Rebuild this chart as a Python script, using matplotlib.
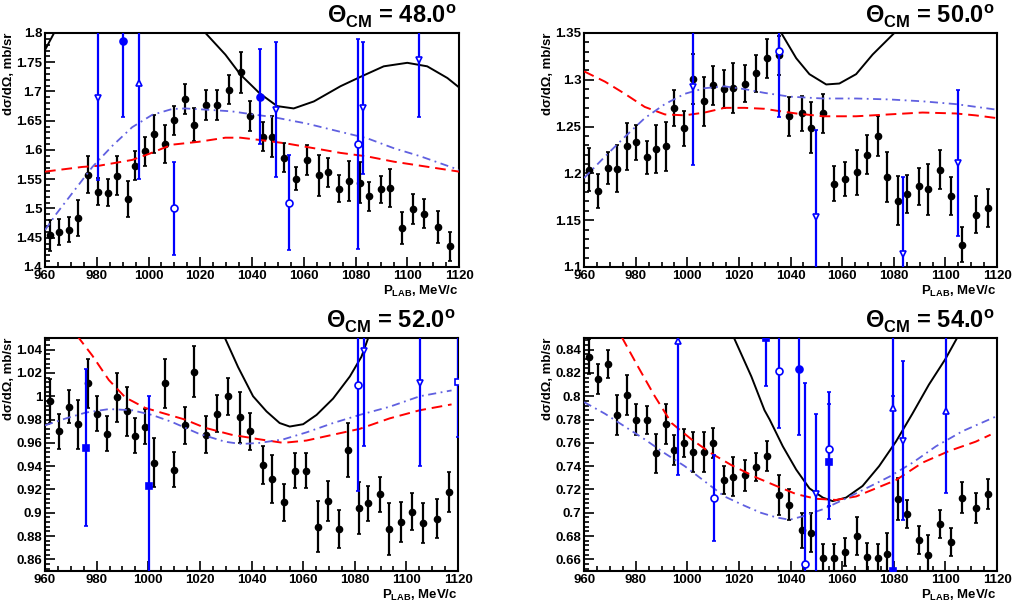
import numpy as np
import matplotlib
matplotlib.use("Agg")
import matplotlib.pyplot as plt
from matplotlib.ticker import MultipleLocator, FuncFormatter

plt.rcParams["font.family"] = ["Liberation Sans", "DejaVu Sans"]
plt.rcParams["font.weight"] = "bold"
plt.rcParams["mathtext.fontset"] = "custom"
plt.rcParams["mathtext.rm"] = "Liberation Sans"
plt.rcParams["mathtext.bf"] = "Liberation Sans:bold"

# ---------------------------------------------------------------------------
# Data
# ---------------------------------------------------------------------------

angles = [48.0, 50.0, 52.0, 54.0]

# beam momenta of the main (black) data set, MeV/c
plab = [961.8, 965.4, 969.3, 972.7, 976.6, 980.3, 984.2, 987.9, 991.9, 994.8,
        998.8, 1002.3, 1006.5, 1010.0, 1014.2, 1017.7, 1022.3, 1026.6, 1031.0, 1035.7,
        1039.3, 1044.3, 1047.9, 1052.5, 1056.9, 1061.2, 1065.9, 1069.5, 1073.8, 1077.4,
        1081.7, 1085.3, 1089.7, 1093.3, 1098.0, 1102.2, 1106.5, 1111.9, 1116.5]

xs48 = [1.454, 1.460, 1.464, 1.484, 1.558, 1.529, 1.527, 1.556, 1.516, 1.573,
        1.598, 1.627, 1.610, 1.651, 1.687, 1.643, 1.677, 1.677, 1.703, 1.733,
        1.658, 1.623, 1.623, 1.587, 1.551, 1.583, 1.557, 1.562, 1.534, 1.547,
        1.544, 1.521, 1.533, 1.535, 1.467, 1.499, 1.491, 1.468, 1.435]
err48 = [0.027, 0.022, 0.021, 0.031, 0.031, 0.023, 0.023, 0.033, 0.031, 0.025,
         0.025, 0.033, 0.033, 0.025, 0.025, 0.028, 0.026, 0.026, 0.025, 0.035,
         0.025, 0.025, 0.035, 0.025, 0.020, 0.025, 0.035, 0.025, 0.023, 0.035,
         0.035, 0.025, 0.023, 0.033, 0.027, 0.025, 0.025, 0.027, 0.025]

xs50 = [1.204, 1.181, 1.206, 1.205, 1.229, 1.233, 1.217, 1.226, 1.229, 1.270,
        1.248, 1.301, 1.277, 1.294, 1.290, 1.291, 1.296, 1.307, 1.323, 1.326,
        1.261, 1.264, 1.249, 1.264, 1.189, 1.194, 1.201, 1.220, 1.240, 1.196,
        1.171, 1.178, 1.186, 1.183, 1.204, 1.176, 1.124, 1.156, 1.163]
err50 = [0.023, 0.018, 0.017, 0.025, 0.025, 0.019, 0.018, 0.026, 0.026, 0.019,
         0.019, 0.027, 0.026, 0.021, 0.020, 0.027, 0.020, 0.020, 0.021, 0.021,
         0.021, 0.019, 0.027, 0.021, 0.019, 0.018, 0.024, 0.021, 0.021, 0.027,
         0.026, 0.020, 0.020, 0.027, 0.021, 0.020, 0.019, 0.020, 0.020]

xs52 = [0.996, 0.970, 0.991, 0.976, 1.011, 0.985, 0.968, 0.999, 0.987, 0.966,
        0.974, 0.943, 1.011, 0.937, 0.975, 1.021, 0.967, 0.985, 1.000, 0.982,
        0.970, 0.941, 0.929, 0.909, 0.936, 0.936, 0.888, 0.910, 0.886, 0.954,
        0.904, 0.908, 0.916, 0.886, 0.892, 0.901, 0.891, 0.895, 0.918]
err52 = [0.019, 0.015, 0.014, 0.021, 0.021, 0.015, 0.015, 0.021, 0.021, 0.015,
         0.015, 0.021, 0.021, 0.015, 0.016, 0.022, 0.016, 0.016, 0.016, 0.022,
         0.016, 0.016, 0.021, 0.016, 0.015, 0.015, 0.022, 0.017, 0.016, 0.023,
         0.022, 0.015, 0.015, 0.022, 0.017, 0.016, 0.017, 0.017, 0.017]

xs54 = [0.834, 0.815, 0.828, 0.784, 0.801, 0.780, 0.780, 0.751, 0.776, 0.754,
        0.760, 0.752, 0.752, 0.760, 0.728, 0.731, 0.732, 0.739, 0.749, 0.715,
        0.707, 0.685, 0.683, 0.661, 0.661, 0.666, 0.680, 0.662, 0.661, 0.665,
        0.712, 0.699, 0.677, 0.664, 0.690, 0.675, 0.713, 0.704, 0.716]
err54 = [0.015, 0.013, 0.012, 0.017, 0.017, 0.013, 0.012, 0.017, 0.017, 0.013,
         0.012, 0.017, 0.017, 0.013, 0.012, 0.017, 0.013, 0.012, 0.013, 0.017,
         0.013, 0.015, 0.017, 0.012, 0.012, 0.012, 0.016, 0.012, 0.012, 0.018,
         0.018, 0.012, 0.012, 0.017, 0.012, 0.012, 0.013, 0.013, 0.013]

# other experiments (blue); "set" picks the marker of that experiment
old48_x = [980.3, 990.3, 996.2, 1010.0, 1042.9, 1049.2, 1054.2, 1080.9, 1082.7, 1104.5]
old48_y = [1.689, 1.786, 1.714, 1.500, 1.691, 1.669, 1.510, 1.610, 1.672, 1.753]
old48_e = [0.140, 0.130, 0.163, 0.080, 0.081, 0.116, 0.081, 0.180, 0.113, 0.097]
old48_set = [0, 1, 2, 3, 1, 0, 3, 3, 0, 0]

old50_x = [1002.2, 1035.4, 1050.0, 1083.4, 1105.0]
old50_y = [1.292, 1.331, 1.153, 1.114, 1.211]
old50_e = [0.083, 0.071, 0.093, 0.082, 0.078]
old50_set = [0, 3, 0, 0, 0]

old52_x = [975.7, 1000.1, 1081.4, 1083.5, 1105.2, 1120.0]
old52_y = [0.956, 0.923, 1.010, 1.039, 1.011, 1.012]
old52_e = [0.067, 0.077, 0.091, 0.082, 0.071, 0.047]
old52_set = [4, 4, 3, 0, 0, 5]

old54_x = [996.2, 1010.2, 1030.3, 1035.5, 1043.2, 1045.7, 1050.0, 1055.0, 1055.0,
           1079.5, 1079.5, 1083.4, 1100.3]
old54_y = [0.847, 0.713, 0.850, 0.822, 0.823, 0.656, 0.716, 0.755, 0.744,
           0.790, 0.650, 0.762, 0.787]
old54_e = [0.115, 0.037, 0.041, 0.049, 0.056, 0.155, 0.069, 0.049, 0.049,
           0.200, 0.150, 0.068, 0.070]
old54_set = [2, 3, 4, 3, 1, 3, 0, 3, 4, 2, 4, 0, 2]

# model curves: solid black, dashed red, dash-dotted blue
sol48_x = [957.0, 960.0, 963.5, 967.0, 1019.0, 1022.0, 1029.7, 1035.5, 1042.9, 1049.7,
           1056.1, 1063.9, 1074.2, 1081.9, 1090.9, 1100.0, 1107.7, 1115.5, 1120.0]
sol48_y = [1.740, 1.771, 1.800, 1.830, 1.830, 1.800, 1.763, 1.729, 1.697, 1.675,
           1.671, 1.683, 1.709, 1.725, 1.743, 1.749, 1.743, 1.723, 1.707]
dsh48_x = [960.0, 974.4, 980.8, 993.7, 1000.0, 1009.0, 1019.4, 1029.7, 1035.5, 1043.2,
           1053.5, 1063.9, 1074.2, 1084.5, 1094.8, 1105.2, 1120.0]
dsh48_y = [1.563, 1.571, 1.573, 1.583, 1.593, 1.609, 1.614, 1.621, 1.621, 1.617,
           1.611, 1.603, 1.595, 1.589, 1.580, 1.573, 1.563]
dd48_x = [960.0, 964.4, 970.5, 978.3, 986.0, 993.7, 1001.4, 1009.1, 1014.2, 1022.0,
          1032.2, 1040.0, 1048.4, 1061.3, 1074.2, 1084.5, 1094.8, 1105.2, 1117.4, 1120.0]
dd48_y = [1.463, 1.491, 1.526, 1.571, 1.607, 1.639, 1.660, 1.670, 1.671, 1.669,
          1.666, 1.661, 1.656, 1.645, 1.631, 1.620, 1.603, 1.589, 1.570, 1.566]

sol50_x = [1030.0, 1036.4, 1042.2, 1047.3, 1053.8, 1058.9, 1065.4, 1071.8, 1080.2, 1085.0]
sol50_y = [1.400, 1.350, 1.323, 1.306, 1.295, 1.296, 1.306, 1.327, 1.350, 1.390]
dsh50_x = [960.0, 968.1, 975.8, 983.5, 991.3, 999.0, 1006.7, 1014.4, 1022.2, 1029.9,
           1034.5, 1042.2, 1052.5, 1065.4, 1078.2, 1091.1, 1104.0, 1111.6, 1120.0]
dsh50_y = [1.309, 1.298, 1.285, 1.271, 1.263, 1.262, 1.265, 1.270, 1.270, 1.269,
           1.267, 1.264, 1.261, 1.261, 1.263, 1.265, 1.264, 1.262, 1.259]
dd50_x = [960.0, 968.1, 975.8, 983.5, 991.3, 999.0, 1006.7, 1014.4, 1022.2, 1029.9,
          1039.6, 1052.5, 1065.4, 1078.2, 1091.1, 1104.0, 1120.0]
dd50_y = [1.195, 1.218, 1.239, 1.259, 1.274, 1.285, 1.291, 1.293, 1.290, 1.286,
          1.282, 1.280, 1.280, 1.279, 1.277, 1.274, 1.268]

sol52_x = [1025.0, 1029.7, 1034.8, 1040.6, 1045.8, 1050.9, 1054.8, 1060.0, 1065.2,
           1071.6, 1078.1, 1082.6, 1085.2, 1090.0]
sol52_y = [1.080, 1.050, 1.025, 1.000, 0.987, 0.977, 0.974, 0.976, 0.984,
           0.998, 1.017, 1.034, 1.050, 1.080]
dsh52_x = [965.0, 973.1, 978.3, 984.7, 991.1, 998.8, 1006.5, 1014.2, 1021.9, 1032.2,
           1043.2, 1052.3, 1061.3, 1071.6, 1081.9, 1093.5, 1105.2, 1117.5]
dsh52_y = [1.075, 1.050, 1.035, 1.014, 0.999, 0.990, 0.985, 0.980, 0.973, 0.967,
           0.963, 0.960, 0.962, 0.967, 0.972, 0.981, 0.988, 0.993]
dd52_x = [960.0, 968.1, 975.8, 984.8, 993.7, 1001.4, 1009.1, 1019.4, 1029.7, 1036.0,
          1043.2, 1052.3, 1061.3, 1071.6, 1081.9, 1093.5, 1105.2, 1117.5]
dd52_y = [0.975, 0.981, 0.986, 0.989, 0.988, 0.984, 0.978, 0.968, 0.961, 0.959,
          0.960, 0.963, 0.969, 0.977, 0.984, 0.991, 1.000, 1.005]

sol54_x = [1014.0, 1018.1, 1024.8, 1029.9, 1031.9, 1037.0, 1042.2, 1047.3, 1052.5,
           1056.3, 1061.5, 1067.9, 1074.3, 1080.8, 1087.2, 1093.6, 1100.0, 1104.5, 1108.0]
sol54_y = [0.870, 0.850, 0.817, 0.788, 0.780, 0.757, 0.737, 0.721, 0.713,
           0.710, 0.713, 0.723, 0.740, 0.761, 0.785, 0.810, 0.832, 0.850, 0.870]
dsh54_x = [968.0, 974.8, 981.0, 987.4, 993.9, 1001.6, 1009.3, 1017.0, 1027.0, 1034.5,
           1042.2, 1049.9, 1057.6, 1065.4, 1073.1, 1080.8, 1091.1, 1101.4, 1111.7, 1117.5]
dsh54_y = [0.875, 0.850, 0.825, 0.800, 0.777, 0.763, 0.751, 0.741, 0.730, 0.723,
           0.716, 0.712, 0.711, 0.714, 0.721, 0.728, 0.743, 0.753, 0.761, 0.767]
dd54_x = [960.0, 968.1, 975.8, 983.5, 991.3, 999.0, 1006.7, 1014.4, 1022.2, 1028.5,
          1034.5, 1039.6, 1044.8, 1052.5, 1060.3, 1069.3, 1078.3, 1087.3, 1096.3, 1106.6, 1120.0]
dd54_y = [0.795, 0.785, 0.774, 0.763, 0.751, 0.740, 0.727, 0.714, 0.706, 0.700,
          0.696, 0.694, 0.697, 0.703, 0.711, 0.721, 0.731, 0.743, 0.757, 0.770, 0.783]

# ---------------------------------------------------------------------------
# Styling
# ---------------------------------------------------------------------------

BLUE = "#0000ff"
BLUE_LIGHT = "#6060e0"
BLUE_MARKERS = {
    0: dict(marker="v", mfc="white"),
    1: dict(marker="o", mfc=BLUE),
    2: dict(marker="^", mfc="white"),
    3: dict(marker="o", mfc="white"),
    4: dict(marker="s", mfc=BLUE),
    5: dict(marker="s", mfc="white"),
}

panels = [
    dict(angle=angles[0], y=xs48, e=err48, ylim=(1.4, 1.8), major=0.05,
         old=(old48_x, old48_y, old48_e, old48_set),
         sol=(sol48_x, sol48_y), dsh=(dsh48_x, dsh48_y), dd=(dd48_x, dd48_y)),
    dict(angle=angles[1], y=xs50, e=err50, ylim=(1.1, 1.35), major=0.05,
         old=(old50_x, old50_y, old50_e, old50_set),
         sol=(sol50_x, sol50_y), dsh=(dsh50_x, dsh50_y), dd=(dd50_x, dd50_y)),
    dict(angle=angles[2], y=xs52, e=err52, ylim=(0.85, 1.05), major=0.02,
         old=(old52_x, old52_y, old52_e, old52_set),
         sol=(sol52_x, sol52_y), dsh=(dsh52_x, dsh52_y), dd=(dd52_x, dd52_y)),
    dict(angle=angles[3], y=xs54, e=err54, ylim=(0.65, 0.85), major=0.02,
         old=(old54_x, old54_y, old54_e, old54_set),
         sol=(sol54_x, sol54_y), dsh=(dsh54_x, dsh54_y), dd=(dd54_x, dd54_y)),
]


def draw_panel(ax, p):
    ax.errorbar(plab, p["y"], yerr=p["e"], fmt="o", color="black", ms=4.5,
                lw=1.6, capsize=1.5, capthick=1.2, zorder=3)

    ax.plot(*p["sol"], color="black", lw=1.4, zorder=4)
    ax.plot(*p["dsh"], color="red", lw=1.4, ls=(0, (5.5, 3.0)), zorder=4)
    ax.plot(*p["dd"], color=BLUE_LIGHT, lw=1.3, ls=(0, (4.5, 2.5, 1.0, 2.5)), zorder=4)

    ox, oy, oe, oset = p["old"]
    for x, y, e, s in zip(ox, oy, oe, oset):
        st = BLUE_MARKERS[s]
        ax.errorbar([x], [y], yerr=[e], fmt=st["marker"], mfc=st["mfc"], mec=BLUE,
                    color=BLUE, ms=5, mew=1.2, lw=1.6, capsize=1.5, capthick=1.2,
                    zorder=5)

    ax.set_xlim(960, 1120)
    ax.set_ylim(*p["ylim"])
    ax.xaxis.set_major_locator(MultipleLocator(20))
    ax.xaxis.set_minor_locator(MultipleLocator(5))
    ax.yaxis.set_major_locator(MultipleLocator(p["major"]))
    ax.yaxis.set_minor_locator(MultipleLocator(p["major"] / 5))
    ax.yaxis.set_major_formatter(FuncFormatter(lambda v, _: f"{round(v, 4):g}"))
    ax.tick_params(which="both", direction="in", labelsize=9.5, width=1.2, pad=2)
    ax.tick_params(which="major", length=7)
    ax.tick_params(which="minor", length=3.5)
    for sp in ax.spines.values():
        sp.set_linewidth(1.5)

    ax.text(0.995, 1.07, f"Θ$_{{\\mathbf{{CM}}}}$ = {p['angle']:.1f}$^{{\\mathbf{{o}}}}$",
            transform=ax.transAxes, ha="right", va="center", fontsize=17,
            fontweight="bold")
    ax.text(-0.088, 1.0, "dσ/dΩ, mb/sr", transform=ax.transAxes, rotation=90,
            ha="center", va="top", fontsize=9.5)
    ax.text(1.0, -0.105, "P$_{\\mathbf{LAB}}$, MeV/c", transform=ax.transAxes,
            ha="right", va="center", fontsize=9.5)


fig = plt.figure(figsize=(10.14, 6.04), dpi=100)
boxes = [
    (0.0444, 0.558, 0.4083, 0.3874),
    (0.5760, 0.558, 0.4073, 0.3874),
    (0.0444, 0.0546, 0.4073, 0.3858),
    (0.5760, 0.0546, 0.4073, 0.3858),
]
for box, p in zip(boxes, panels):
    ax = fig.add_axes(box)
    draw_panel(ax, p)

fig.savefig("out.png", dpi=100)
plt.close(fig)
